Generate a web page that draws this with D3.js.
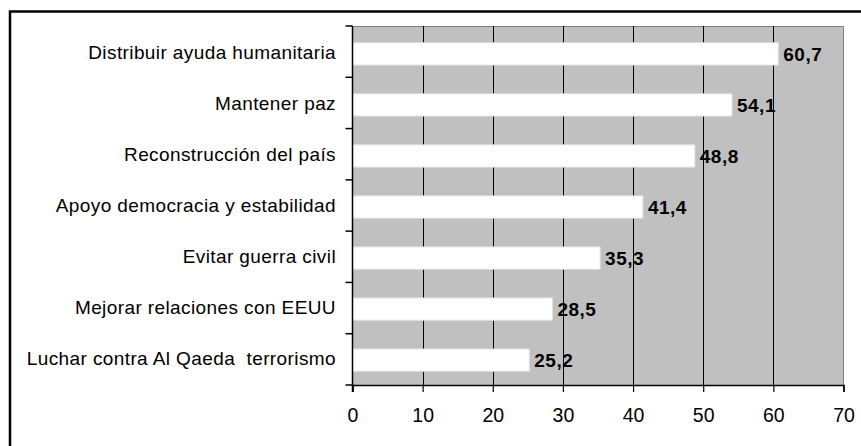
<!DOCTYPE html>
<html><head><meta charset="utf-8">
<script src="https://cdn.jsdelivr.net/npm/d3@7"></script>
<style>body{margin:0;background:#fff}svg{display:block}</style>
</head><body>
<script>
const categories = ["Distribuir ayuda humanitaria","Mantener paz","Reconstrucción del país","Apoyo democracia y estabilidad","Evitar guerra civil","Mejorar relaciones con EEUU","Luchar contra Al Qaeda  terrorismo"];
const values = [60.7,54.1,48.8,41.4,35.3,28.5,25.2];
const valueLabels = ["60,7","54,1","48,8","41,4","35,3","28,5","25,2"];
const xTicks = [0,10,20,30,40,50,60,70];

(function(){
const W=861,H=446;
const FONT="'Liberation Sans', Arial, sans-serif";
const svg=d3.select("body").append("svg").attr("width",W).attr("height",H);
svg.append("rect").attr("width",W).attr("height",H).attr("fill","#fff");
svg.append("rect").attr("x",10).attr("y",11.5).attr("width",W).attr("height",H).attr("fill","none").attr("stroke","#000").attr("stroke-width",2.5);

const pl=352.5,pr=843.5,pt=26,pb=385;
const x=d3.scaleLinear().domain([0,70]).range([pl,pr]);
const y=d3.scaleBand().domain(categories).range([pt+1.5,pb+1.5]).paddingInner(0.565).paddingOuter(0.3);

svg.append("rect").attr("x",pl).attr("y",pt).attr("width",pr-pl).attr("height",pb-pt).attr("fill","#c0c0c0");
svg.append("path").attr("d",`M${pl},${pt+0.5}H${pr}V${pb}`).attr("fill","none").attr("stroke","#808080").attr("stroke-width",1);

svg.append("g").selectAll("line").data(xTicks.filter(t=>t>0&&t<70)).join("line")
  .attr("x1",d=>Math.round(x(d))+0.5).attr("x2",d=>Math.round(x(d))+0.5).attr("y1",pt).attr("y2",pb)
  .attr("stroke","#000").attr("stroke-width",1);

svg.append("g").selectAll("rect").data(values).join("rect")
  .attr("x",pl).attr("y",(d,i)=>y(categories[i])).attr("width",d=>x(d)-pl).attr("height",y.bandwidth())
  .attr("fill","#fff").attr("stroke","#e4e4e4").attr("stroke-width",1);

svg.append("g").selectAll("text").data(values).join("text")
  .attr("x",d=>x(d)+5).attr("y",(d,i)=>y(categories[i])+y.bandwidth()/2)
  .attr("dy","0.36em").attr("font-family",FONT).attr("letter-spacing",0.5)
  .attr("font-size",19).attr("font-weight","bold").attr("fill","#000")
  .text((d,i)=>valueLabels[i]);

const xa=svg.append("g").attr("transform",`translate(0,${pb})`)
  .call(d3.axisBottom(x).tickValues(xTicks).tickSize(7).tickPadding(16));
xa.select(".domain").attr("stroke","#000").attr("stroke-width",1.5);
xa.selectAll(".tick line").attr("stroke","#000").attr("stroke-width",1.2);
xa.selectAll("text").attr("font-family",FONT).attr("font-size",19.5).attr("fill","#000");

const bounds=d3.range(categories.length+1).map(i=>pt+i*(pb-pt)/categories.length);
svg.append("line").attr("x1",pl).attr("x2",pl).attr("y1",pt).attr("y2",pb+7).attr("stroke","#000").attr("stroke-width",1.5);
svg.append("g").selectAll("line").data(bounds).join("line")
  .attr("x1",pl-7).attr("x2",pl).attr("y1",d=>d).attr("y2",d=>d).attr("stroke","#000").attr("stroke-width",1.5);

svg.append("g").selectAll("text").data(categories).join("text")
  .attr("x",336).attr("y",d=>y(d)+y.bandwidth()/2-1.5).attr("dy","0.35em")
  .attr("text-anchor","end").attr("letter-spacing",0.4)
  .attr("font-family",FONT).attr("font-size",19).attr("fill","#000")
  .attr("xml:space","preserve")
  .text(d=>d);
})();
</script>
</body></html>
